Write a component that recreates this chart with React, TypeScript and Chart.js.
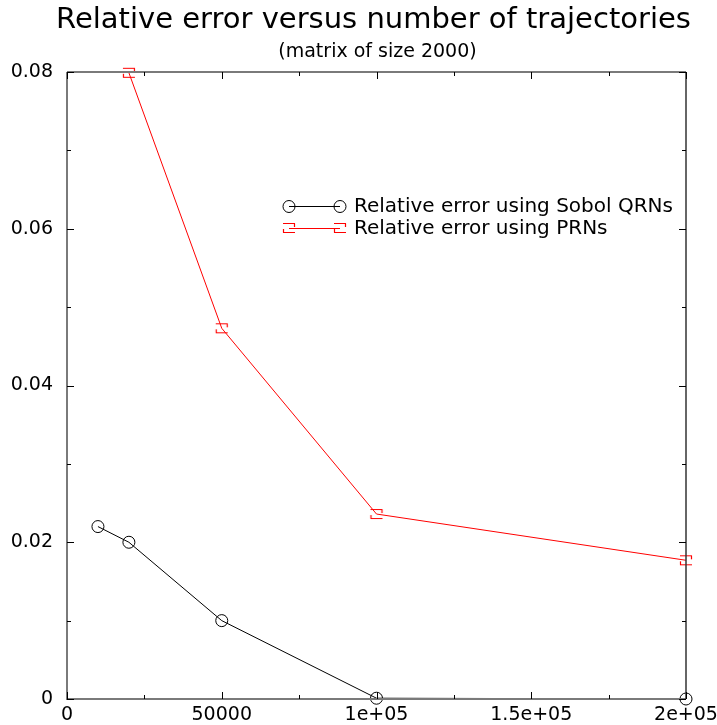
import React, { useEffect, useRef } from "react";
import { Chart, registerables } from "chart.js";

Chart.register(...registerables);

const titleText = "Relative error versus number of trajectories";
const subtitleText = "(matrix of size 2000)";

const sobolLabel = "Relative error using Sobol QRNs";
const sobolX = [10000, 20000, 50000, 100000, 200000];
const sobolErr = [0.022, 0.02, 0.01, 0.0001, 0.0];

const prnLabel = "Relative error using PRNs";
const prnX = [20000, 50000, 100000, 200000];
const prnErr = [0.0799, 0.0473, 0.0236, 0.0177];

const xTickValues = [0, 50000, 100000, 150000, 200000];
const xTickLabels = ["0", "50000", "1e+05", "1.5e+05", "2e+05"];
const xMinorStep = 25000;
const yTickValues = [0, 0.02, 0.04, 0.06, 0.08];
const yTickLabels = ["0", "0.02", "0.04", "0.06", "0.08"];
const yMinorStep = 0.01;

const FONT = "'DejaVu Sans', sans-serif";

function makePrnMarker(): HTMLCanvasElement {
  const c = document.createElement("canvas");
  c.width = 16;
  c.height = 14;
  const g = c.getContext("2d")!;
  g.strokeStyle = "#ff0000";
  g.lineWidth = 1.2;
  g.beginPath();
  g.moveTo(2, 2.5);
  g.lineTo(14, 2.5);
  g.moveTo(13.5, 2.5);
  g.lineTo(13.5, 6);
  g.moveTo(2.5, 8);
  g.lineTo(2.5, 11.5);
  g.moveTo(2, 11.5);
  g.lineTo(14, 11.5);
  g.stroke();
  return c;
}

export default function App() {
  const ref = useRef<HTMLCanvasElement | null>(null);

  useEffect(() => {
    const canvas = ref.current;
    if (!canvas) return;
    const prnMarker = makePrnMarker();

    const framePlugin = {
      id: "frame",
      afterDatasetsDraw(chart: any) {
        const ctx = chart.ctx;
        const { left, right, top, bottom } = chart.chartArea;
        const xs = chart.scales.x;
        const ys = chart.scales.y;
        ctx.save();
        // frame
        ctx.strokeStyle = "#7a7a7a";
        ctx.lineWidth = 2;
        ctx.beginPath();
        ctx.moveTo(left, top);
        ctx.lineTo(left, bottom);
        ctx.lineTo(right, bottom);
        ctx.moveTo(left, top);
        ctx.lineTo(right, top);
        ctx.stroke();
        ctx.strokeStyle = "#333";
        ctx.lineWidth = 1.5;
        ctx.beginPath();
        ctx.moveTo(right, top);
        ctx.lineTo(right, bottom);
        ctx.stroke();
        // ticks (inward)
        ctx.strokeStyle = "#000";
        ctx.lineWidth = 1;
        ctx.beginPath();
        for (let v = xs.min; v <= xs.max + 1e-9; v += xMinorStep) {
          const major = xTickValues.some((t) => Math.abs(t - v) < 1e-6);
          const len = major ? 7 : 4;
          const px = Math.round(xs.getPixelForValue(v)) + 0.5;
          ctx.moveTo(px, bottom);
          ctx.lineTo(px, bottom - len);
          ctx.moveTo(px, top);
          ctx.lineTo(px, top + len);
        }
        for (let k = 0; k * yMinorStep <= ys.max + 1e-12; k++) {
          const v = k * yMinorStep;
          const major = yTickValues.some((t) => Math.abs(t - v) < 1e-9);
          const len = major ? 7 : 4;
          const py = Math.round(ys.getPixelForValue(v)) + 0.5;
          ctx.moveTo(left, py);
          ctx.lineTo(left + len, py);
          ctx.moveTo(right, py);
          ctx.lineTo(right - len, py);
        }
        ctx.stroke();
        ctx.restore();
      },
      afterDraw(chart: any) {
        const ctx = chart.ctx;
        const { left, right } = chart.chartArea;
        const cx = (left + right) / 2;
        ctx.save();
        ctx.fillStyle = "#000";
        ctx.textAlign = "center";
        ctx.textBaseline = "middle";
        ctx.font = `29px ${FONT}`;
        ctx.fillText(titleText, cx - 3, 20);
        ctx.font = `19px ${FONT}`;
        ctx.fillText(subtitleText, cx + 1, 52);

        // legend
        const x0 = 289;
        const x1 = 340;
        const tx = 354;
        const y1 = 206;
        const y2 = 228;
        ctx.lineWidth = 1;
        ctx.strokeStyle = "#000";
        ctx.beginPath();
        ctx.moveTo(x0, y1 + 0.5);
        ctx.lineTo(x1, y1 + 0.5);
        ctx.stroke();
        for (const x of [x0, x1]) {
          ctx.beginPath();
          ctx.arc(x, y1 + 0.5, 6, 0, Math.PI * 2);
          ctx.stroke();
        }
        ctx.strokeStyle = "#ff0000";
        ctx.beginPath();
        ctx.moveTo(x0, y2 + 0.5);
        ctx.lineTo(x1, y2 + 0.5);
        ctx.stroke();
        for (const x of [x0, x1]) {
          ctx.drawImage(prnMarker, x - 8, y2 - 7);
        }
        ctx.textAlign = "left";
        ctx.font = `20px ${FONT}`;
        ctx.fillStyle = "#000";
        ctx.fillText(sobolLabel, tx, y1 + 1);
        ctx.fillText(prnLabel, tx, y2 + 1);
        ctx.restore();
      },
    };

    const chart = new Chart(canvas, {
      type: "line",
      data: {
        datasets: [
          {
            label: sobolLabel,
            data: sobolX.map((x, i) => ({ x, y: sobolErr[i] })),
            borderColor: "#000",
            borderWidth: 1,
            pointStyle: "circle",
            pointRadius: 6,
            pointBorderColor: "#000",
            pointBackgroundColor: "rgba(0,0,0,0)",
            pointBorderWidth: 1,
            tension: 0,
            clip: false as any,
          },
          {
            label: prnLabel,
            data: prnX.map((x, i) => ({ x, y: prnErr[i] })),
            borderColor: "#ff0000",
            borderWidth: 1,
            pointStyle: prnMarker as any,
            pointRadius: 6,
            tension: 0,
            clip: false as any,
          },
        ],
      },
      options: {
        animation: false,
        responsive: true,
        maintainAspectRatio: false,
        layout: {
          padding: { left: 0, right: 31, top: 72, bottom: 0 },
          autoPadding: false,
        } as any,
        plugins: {
          legend: { display: false },
          title: { display: false },
          tooltip: { enabled: false },
        },
        scales: {
          x: {
            type: "linear",
            min: 0,
            max: 200000,
            grid: { display: false, drawTicks: false },
            border: { display: false },
            afterBuildTicks: (s: any) => {
              s.ticks = xTickValues.map((v) => ({ value: v }));
            },
            afterFit: (s: any) => {
              s.height = 26;
              s.paddingLeft = 0;
              s.paddingRight = 0;
            },
            ticks: {
              autoSkip: false,
              maxRotation: 0,
              padding: 5,
              color: "#000",
              font: { family: FONT, size: 19 },
              callback: (_v: any, i: number) => xTickLabels[i],
            },
          },
          y: {
            type: "linear",
            min: 0,
            max: 0.08,
            grid: { display: false, drawTicks: false },
            border: { display: false },
            afterBuildTicks: (s: any) => {
              s.ticks = yTickValues.map((v) => ({ value: v }));
            },
            afterFit: (s: any) => {
              s.width = 67;
              s.paddingTop = 0;
              s.paddingBottom = 0;
            },
            ticks: {
              autoSkip: false,
              padding: 14,
              color: "#000",
              font: { family: FONT, size: 19 },
              callback: (_v: any, i: number) => yTickLabels[i],
            },
          },
        },
      },
      plugins: [framePlugin],
    });
    return () => chart.destroy();
  }, []);

  return (
    <div
      style={{
        position: "absolute",
        left: 0,
        top: 0,
        width: 717,
        height: 725,
        background: "#fff",
      }}
    >
      <canvas ref={ref} />
    </div>
  );
}
